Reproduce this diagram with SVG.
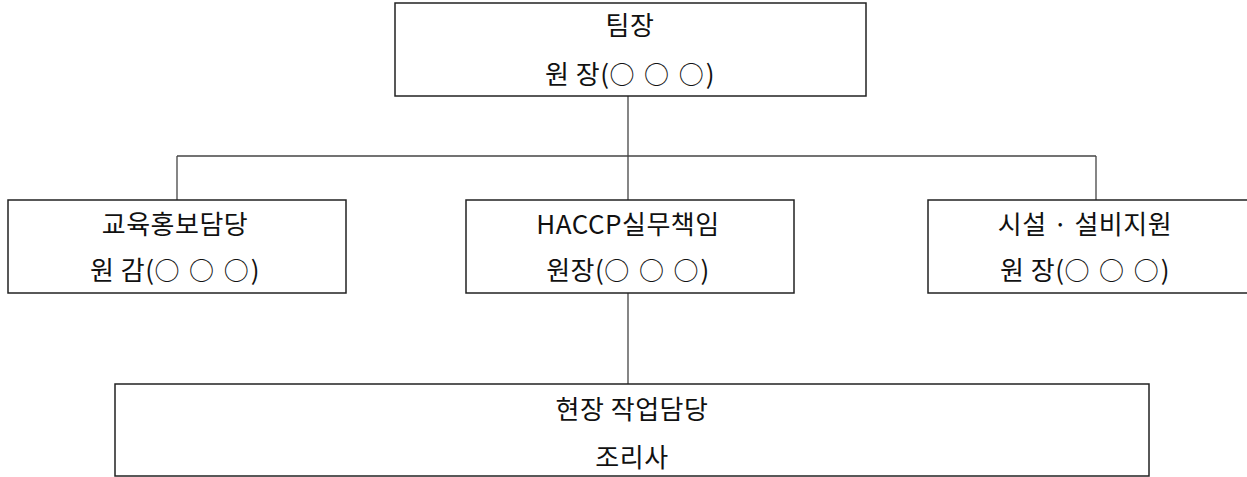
<svg xmlns="http://www.w3.org/2000/svg" width="1247" height="477" viewBox="0 0 1247 477">
<style>
.box{fill:#fff;stroke:#222;stroke-width:1.5}
.ln{fill:none;stroke:#444;stroke-width:1.3}
text{font-family:"Noto Sans CJK KR","Noto Sans",sans-serif;font-size:26px;letter-spacing:0.5px;fill:#111;text-anchor:middle}
.c{font-size:25px;letter-spacing:2px}
</style>
<rect width="1247" height="477" fill="#fff"/>
<g id="connectors">
<line class="ln" x1="628" y1="96" x2="628" y2="200"/>
<line class="ln" x1="177" y1="156" x2="1096" y2="156"/>
<line class="ln" x1="177" y1="156" x2="177" y2="200"/>
<line class="ln" x1="1096" y1="156" x2="1096" y2="200"/>
<line class="ln" x1="628" y1="293" x2="628" y2="384"/>
</g>
<g id="n-teamlead">
<rect class="box" x="395" y="3" width="471" height="93"/>
<text x="630" y="35">팀장</text>
<text x="630" y="84">원 장(<tspan class="c">○ ○ ○</tspan>)</text>
</g>
<g id="n-edu">
<rect class="box" x="8" y="200" width="338" height="93"/>
<text x="175" y="234">교육홍보담당</text>
<text x="175" y="280">원 감(<tspan class="c">○ ○ ○</tspan>)</text>
</g>
<g id="n-haccp">
<rect class="box" x="466" y="200" width="328" height="93"/>
<text x="628" y="234">HACCP실무책임</text>
<text x="628" y="280">원장(<tspan class="c">○ ○ ○</tspan>)</text>
</g>
<g id="n-facility">
<rect class="box" x="928" y="200" width="330" height="93"/>
<text x="1085" y="234">시설 · 설비지원</text>
<text x="1085" y="280">원 장(<tspan class="c">○ ○ ○</tspan>)</text>
</g>
<g id="n-field">
<rect class="box" x="115" y="384" width="1034" height="92"/>
<text x="632" y="419">현장 작업담당</text>
<text x="632" y="467">조리사</text>
</g>
</svg>
